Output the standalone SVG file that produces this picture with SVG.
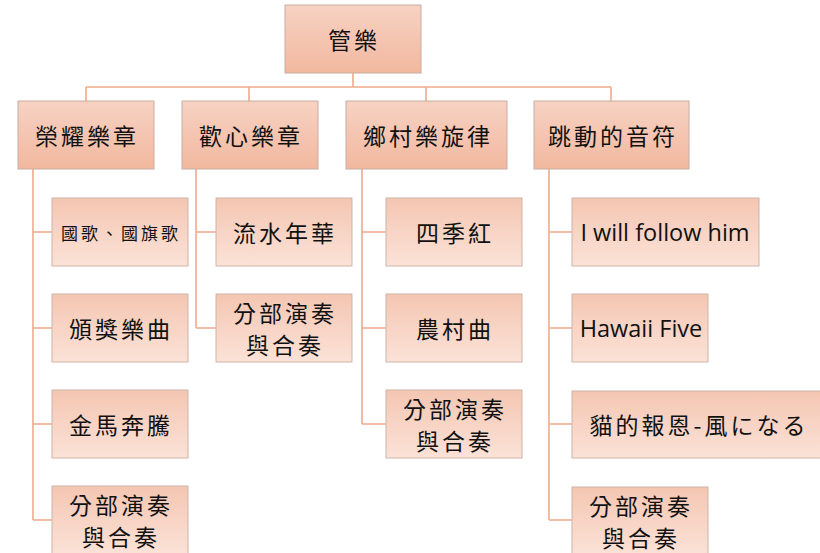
<svg xmlns="http://www.w3.org/2000/svg" width="820" height="553" viewBox="0 0 820 553">
<defs>
<linearGradient id="gTop" x1="0" y1="0" x2="0" y2="1">
<stop offset="0" stop-color="#f7d2c3"/>
<stop offset="1" stop-color="#f2b89f"/>
</linearGradient>
<linearGradient id="gChild" x1="0" y1="0" x2="0" y2="1">
<stop offset="0" stop-color="#f4c6b2"/>
<stop offset="1" stop-color="#fbe2d7"/>
</linearGradient>
</defs>
<style>
.top rect{fill:url(#gTop);stroke:#c8aca2;stroke-width:1}
.child rect{fill:url(#gChild);stroke:#cdb4aa;stroke-width:1}
text{font-family:"Noto Sans CJK TC","Noto Sans CJK JP",sans-serif;fill:#111;text-anchor:middle;dominant-baseline:central}
.t1{font-size:23px;letter-spacing:3px}
.t2{font-size:23px;letter-spacing:3px}
.t3{font-size:17px;letter-spacing:3px}
.lat{font-family:"Open Sans","Noto Sans",sans-serif;font-size:23.5px;letter-spacing:0}
#connectors path{fill:none;stroke:#f0a98b;stroke-width:1.6}
</style>
<g id="connectors">
<path d="M353 73V87M86 87H611M86 87V101M249 87V101M426 87V101M611 87V101"/>
<path d="M33 169V520M33 232H52M33 328H52M33 424H52M33 520H52"/>
<path d="M196 169V328M196 232H216M196 328H216"/>
<path d="M362 169V424M362 232H386M362 328H386M362 424H386"/>
<path d="M549 169V520M549 232H572M549 328H572M549 424H572M549 520H572"/>
</g>
<g id="root" class="top"><rect x="285" y="5" width="136" height="68"/><text class="t1" x="354" y="39">管樂</text></g>
<g id="n1" class="top"><rect x="18" y="101" width="136" height="68"/><text class="t1" x="87" y="135">榮耀樂章</text></g>
<g id="n2" class="top"><rect x="182" y="101" width="136" height="68"/><text class="t1" x="251" y="135">歡心樂章</text></g>
<g id="n3" class="top"><rect x="346" y="101" width="161" height="68"/><text class="t1" x="428" y="135">鄉村樂旋律</text></g>
<g id="n4" class="top"><rect x="534" y="101" width="155" height="68"/><text class="t1" x="613" y="135">跳動的音符</text></g>

<g id="c1a" class="child"><rect x="52" y="198" width="136" height="68"/><text class="t3" x="121" y="232">國歌、國旗歌</text></g>
<g id="c1b" class="child"><rect x="52" y="294" width="136" height="68"/><text class="t2" x="121" y="328">頒獎樂曲</text></g>
<g id="c1c" class="child"><rect x="52" y="390" width="136" height="68"/><text class="t2" x="121" y="424">金馬奔騰</text></g>
<g id="c1d" class="child"><rect x="52" y="486" width="136" height="68"/><text class="t2" x="121" y="504">分部演奏</text><text class="t2" x="121" y="536">與合奏</text></g>

<g id="c2a" class="child"><rect x="216" y="198" width="136" height="68"/><text class="t2" x="285" y="232">流水年華</text></g>
<g id="c2b" class="child"><rect x="216" y="294" width="136" height="68"/><text class="t2" x="285" y="312">分部演奏</text><text class="t2" x="285" y="344">與合奏</text></g>

<g id="c3a" class="child"><rect x="386" y="198" width="136" height="68"/><text class="t2" x="455" y="232">四季紅</text></g>
<g id="c3b" class="child"><rect x="386" y="294" width="136" height="68"/><text class="t2" x="455" y="328">農村曲</text></g>
<g id="c3c" class="child"><rect x="386" y="390" width="136" height="68"/><text class="t2" x="455" y="408">分部演奏</text><text class="t2" x="455" y="440">與合奏</text></g>

<g id="c4a" class="child"><rect x="572" y="198" width="187" height="68"/><text class="lat" x="665" y="232">I will follow him</text></g>
<g id="c4b" class="child"><rect x="572" y="294" width="136" height="68"/><text class="lat" x="641" y="328">Hawaii Five</text></g>
<g id="c4c" class="child"><rect x="572" y="391" width="255" height="67"/><text class="t2" x="699" y="424">貓的報恩-風になる</text></g>
<g id="c4d" class="child"><rect x="572" y="487" width="136" height="68"/><text class="t2" x="641" y="505">分部演奏</text><text class="t2" x="641" y="537">與合奏</text></g>
</svg>
